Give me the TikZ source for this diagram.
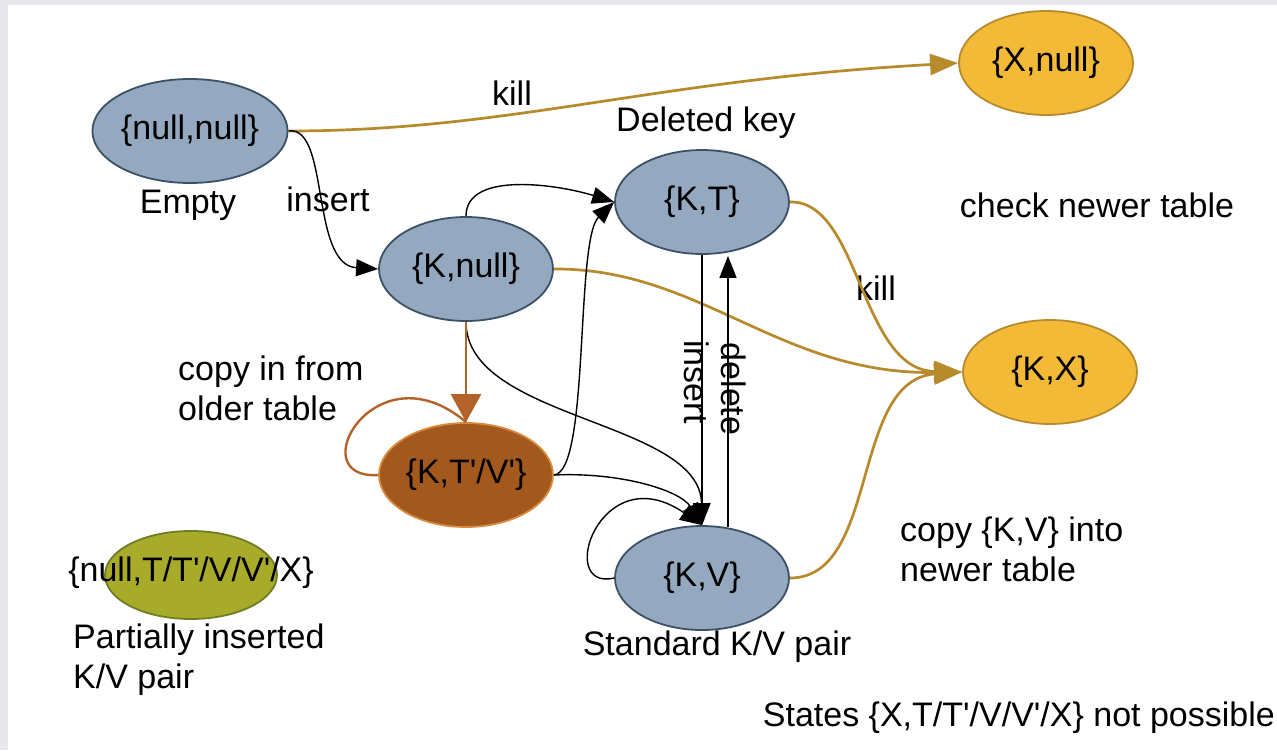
\documentclass[tikz,border=0pt]{standalone}
\usepackage{fontspec}
\newfontfamily\lsans{Liberation Sans}
\usetikzlibrary{shapes.geometric,arrows.meta}
\definecolor{bgray}{HTML}{E8E8EC}
\definecolor{bluefill}{HTML}{94A9BF}
\definecolor{blueline}{HTML}{3C5166}
\definecolor{goldfill}{HTML}{F3BA38}
\definecolor{goldline}{HTML}{B78A2C}
\definecolor{brownfill}{HTML}{A3581D}
\definecolor{brownedge}{HTML}{D98C40}
\definecolor{brownline}{HTML}{B3632A}
\definecolor{olivefill}{HTML}{A8AA2A}
\definecolor{oliveline}{HTML}{6E7E22}
\begin{document}
\begin{tikzpicture}[x=1pt,y=-1pt,
  txt/.style={font={\lsans\fontsize{34}{40}\selectfont}, inner sep=0pt},
  state/.style={txt, ellipse, line width=1.8pt, minimum width=174pt, minimum height=104pt},
  bluestate/.style={state, draw=blueline, fill=bluefill},
  goldstate/.style={state, draw=goldline, fill=goldfill},
  brownstate/.style={state, draw=brownedge, fill=brownfill},
  olivestate/.style={state, draw=oliveline, fill=olivefill, minimum width=172pt, minimum height=88pt},
  lbl/.style={txt, align=left},
  blk/.style={draw=black, line width=1.4pt, -{Triangle[length=22pt,width=17pt]}},
  gld/.style={draw=goldline, line width=2.7pt, -{Triangle[length=28pt,width=21pt]}},
  brn/.style={draw=brownline, line width=2.8pt, -{Triangle[length=28pt,width=30pt]}},
  brnplain/.style={draw=brownline, line width=2.4pt}
]
\useasboundingbox (0,0) rectangle (1277,750);
\fill[bgray] (0,0) rectangle (1277,750);
\fill[white] (8,5) rectangle (1277,750);

% states
\node[bluestate] (nn) at (190,131) {\{null,null\}};
\node[bluestate] (kn) at (466,269) {\{K,null\}};
\node[bluestate] (kt) at (702,202) {\{K,T\}};
\node[brownstate] (bn) at (466,475) {\{K,T'/V'\}};
\node[bluestate] (kv) at (702,578) {\{K,V\}};
\node[goldstate] (xn) at (1046,63) {\{X,null\}};
\node[goldstate] (kx) at (1050,372) {\{K,X\}};
\node[olivestate] (pi) at (191,575) {};
\node[txt] (pitext) at (191,573) {\{null,T/T'/V/V'/X\}};

% labels
\node[lbl] (lempty) at (188,205) {Empty};
\node[lbl] (lins1) at (328,199) {insert};
\node[lbl] (lkill1) at (512,93) {kill};
\node[lbl] (ldel) at (706,123) {Deleted key};
\node[lbl] (lcheck) at (1097,205) {check newer table};
\node[lbl] (lkill2) at (876,288) {kill};
\node[lbl, anchor=west] (lcopyin) at (178,388) {copy in from\\older table};
\node[lbl, anchor=west] (lpart) at (73,660) {Partially inserted\\K/V pair};
\node[lbl, anchor=west] (lcopyv) at (900,549) {copy \{K,V\} into\\newer table};
\node[lbl] (lstd) at (717,647) {Standard K/V pair};
\node[lbl, anchor=east] (lstates) at (1275,718) {States \{X,T/T'/V/V'/X\} not possible};
\node[lbl, rotate=-90] (lins2) at (697,382) {insert};
\node[lbl, rotate=-90] (ldel2) at (734,389) {delete};

% gold connectors
\draw[gld] (nn.east) .. controls (511,131) and (650,80) .. (xn.west);
\draw[gld] (kt.east) .. controls (860,200) and (860,370) .. (kx.west);
\draw[gld] (kn.east) .. controls (700,268) and (780,375) .. (kx.west);
\draw[gld] (kv.east) .. controls (880,578) and (850,380) .. (kx.west);

% black connectors
\draw[blk] (nn.east) .. controls (330,125) and (310,265) .. (kn.west);
\draw[blk] (kn.north) .. controls (466,170) and (560,185) .. (kt.west);
\draw[blk] (bn.east) .. controls (590,472) and (575,240) .. (kt.west);
\draw[blk] (kn.south) .. controls (466,420) and (700,420) .. (kv.north);
\draw[blk] (bn.east) .. controls (620,472) and (680,490) .. (kv.north);
\draw[blk] (kv.west) .. controls (555,592) and (600,455) .. (kv.north);
\draw[blk] (kt.south) -- (kv.north);
\draw[blk] ([xshift=26pt,yshift=-2pt]kv.north) -- ([xshift=26pt,yshift=-1pt]kt.south);

% brown connectors
\draw[brnplain] (bn.west) .. controls (300,480) and (375,345) .. (bn.north);
\draw[brn] (kn.south) -- (bn.north);
\end{tikzpicture}
\end{document}
